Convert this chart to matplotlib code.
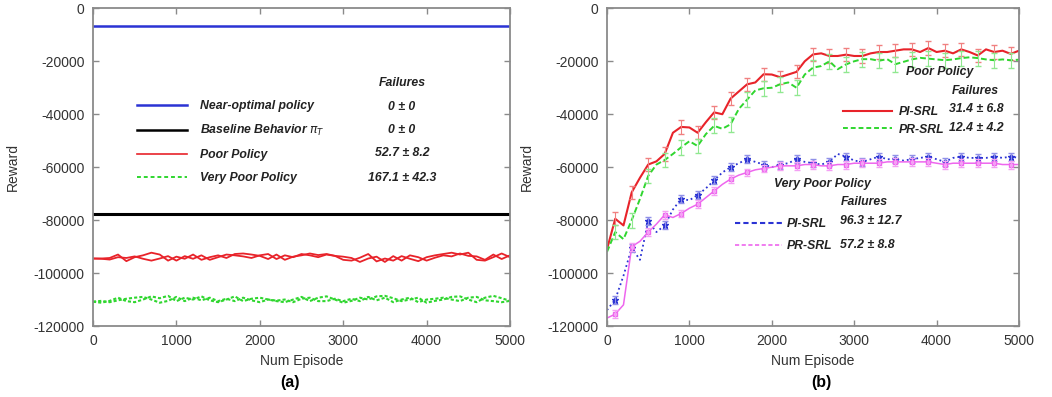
import numpy as np
import matplotlib
matplotlib.use("Agg")
import matplotlib.pyplot as plt
from matplotlib.lines import Line2D

plt.rcParams['font.family'] = ['Liberation Sans', 'DejaVu Sans']
plt.rcParams['axes.unicode_minus'] = False

# ---------------- data ----------------
episodes = np.arange(0, 5001, 100)

# panel (a)
near_optimal = -6700
baseline = -77700
poor_1 = [-94500, -94500, -94300, -93000, -95500, -94000, -93300, -92300, -93000, -95300,
          -93800, -94600, -93000, -95000, -94000, -93300, -94300, -92800, -92600, -93000,
          -93500, -94700, -93000, -95000, -93800, -93300, -92600, -93200, -92800, -93500,
          -95000, -95300, -94200, -92800, -95600, -94500, -95300, -93600, -94600, -95500,
          -94000, -93300, -92800, -92300, -93000, -92300, -95000, -95300, -94000, -92600, -94000]
poor_2 = [-94500, -94600, -94900, -94000, -94300, -93700, -94600, -95300, -94500, -93600,
          -95300, -93600, -94600, -93300, -95000, -94000, -93000, -93300, -93700, -94300,
          -93300, -92800, -94700, -93300, -94000, -92800, -93300, -94000, -93000, -93500,
          -93800, -94300, -95800, -94500, -93800, -95800, -93600, -95300, -93300, -94000,
          -95300, -94200, -93300, -93700, -92600, -93500, -93700, -95000, -93000, -94700, -93300]
very_poor_1 = [-110800, -111200, -110500, -109300, -110600, -111000, -110000, -108800, -109500, -108600,
               -110600, -109300, -110000, -108800, -110300, -111000, -110000, -108800, -110600, -109700,
               -109300, -110000, -110600, -111000, -110000, -109000, -110600, -109300, -108800, -110000,
               -111200, -110500, -109300, -110000, -108800, -108600, -109500, -110600, -110000, -109300,
               -111200, -110500, -110000, -109000, -108800, -110000, -111000, -109300, -108600, -109500, -110500]
very_poor_2 = [-110800, -110500, -111000, -110300, -109700, -109300, -109000, -110000, -111200, -110500,
               -109000, -110600, -109300, -110300, -109300, -110600, -109700, -110600, -109300, -110300,
               -111000, -110000, -110400, -110000, -111000, -109700, -109300, -110600, -110600, -109700,
               -110600, -109700, -110600, -109000, -110300, -109300, -111000, -110000, -109300, -111000,
               -110000, -109700, -109300, -110000, -110600, -109300, -109000, -110300, -110600, -111000, -110500]

# panel (b)
poor_pi = [-91000, -79500, -82000, -69500, -64000, -59000, -57800, -55000, -47000, -44800,
           -45000, -47000, -43000, -39300, -40000, -34100, -31400, -28700, -28000, -24900,
           -25000, -26000, -25000, -24000, -20000, -17400, -17000, -18000, -18000, -17500,
           -18000, -18000, -17000, -16500, -16500, -16000, -15500, -15500, -16500, -15000,
           -16500, -16000, -17000, -15500, -16500, -17800, -15500, -16500, -16000, -17200, -16000]
poor_pr = [-92000, -84500, -87200, -80000, -72000, -63300, -59000, -57300, -55000, -52500,
           -50200, -52000, -47500, -44400, -45500, -43800, -38000, -34500, -31000, -30200,
           -30000, -28700, -28000, -30000, -25000, -22400, -21800, -20000, -23000, -21200,
           -20000, -19200, -19200, -19800, -19200, -21100, -20200, -19300, -18700, -19000,
           -19300, -19600, -19300, -18800, -18500, -18800, -19300, -19600, -19300, -19600, -19400]
vpoor_pi = [-114000, -110000, -101000, -90500, -95000, -80500, -84500, -82000, -76000, -72000,
            -72500, -70500, -68000, -65000, -62000, -60000, -58500, -57000, -58000, -59000,
            -60000, -59000, -58500, -57000, -58000, -58500, -59000, -58000, -55000, -56000,
            -57500, -58000, -57000, -56000, -57000, -57000, -57500, -57000, -56500, -56000,
            -57000, -58000, -56500, -56000, -56500, -56500, -56500, -56000, -56500, -56000, -56500]
vpoor_pr = [-117000, -115500, -112000, -90000, -88000, -84500, -81500, -78000, -79000, -77500,
            -75500, -74000, -71500, -69000, -66500, -64500, -63000, -62000, -61000, -60500,
            -60000, -59500, -59500, -59500, -59000, -59000, -59500, -59500, -59000, -59000,
            -58500, -58500, -58500, -58500, -58000, -58000, -58000, -58000, -58000, -58000,
            -58500, -59000, -58500, -58500, -58500, -58500, -58500, -58500, -59000, -59000, -59000]
err_poor_pi = 2500
err_poor_pr = 2800
err_vpoor_pi = 1500
err_vpoor_pr = 1500

failures_a = ["0 ± 0", "0 ± 0", "52.7 ± 8.2", "167.1 ± 42.3"]
labels_a = ["Near-optimal policy", r"Baseline Behavior $\pi_T$", "Poor Policy", "Very Poor Policy"]

RED = "#e8232a"
GREEN = "#2fd62f"
BLUE = "#2b33d4"
PINK = "#ee66ee"
SPINE = "#8a8a8a"
INK = "#222222"

fig = plt.figure(figsize=(10.52, 3.97), dpi=100)
ax1 = fig.add_axes([0.0884, 0.1788, 0.3964, 0.8002])
ax2 = fig.add_axes([0.5770, 0.1788, 0.3916, 0.8002])


def style_axes(ax):
    ax.set_xlim(0, 5000)
    ax.set_ylim(-120000, 0)
    ax.set_xticks(range(0, 5001, 1000))
    ax.set_yticks(range(-120000, 1, 20000))
    ax.tick_params(direction="in", top=True, right=True, length=4, width=1,
                   color=SPINE, labelsize=10, labelcolor="#333333", pad=6)
    for s in ax.spines.values():
        s.set_color(SPINE)
        s.set_linewidth(1.3)
    ax.set_xlabel("Num Episode", fontsize=10, color="#333333", labelpad=4)
    ax.set_ylabel("Reward", fontsize=10, color="#333333", labelpad=10)


txt = dict(fontsize=8.8, fontweight="bold", style="italic", color=INK)
legprop = {"size": 8.8, "weight": "bold", "style": "italic"}

# ---------------- panel (a) ----------------
ax1.axhline(near_optimal, color=BLUE, lw=1.8)
ax1.axhline(baseline, color="black", lw=2.2)
ax1.plot(episodes, poor_1, color=RED, lw=1.3)
ax1.plot(episodes, poor_2, color=RED, lw=1.3)
ax1.plot(episodes, very_poor_1, color=GREEN, lw=1.5, ls=(0, (1.5, 1)))
ax1.plot(episodes, very_poor_2, color=GREEN, lw=1.5, ls=(0, (1.5, 1)))
style_axes(ax1)

handles_a = [Line2D([], [], color=BLUE, lw=1.8),
             Line2D([], [], color="black", lw=1.8),
             Line2D([], [], color=RED, lw=1.2),
             Line2D([], [], color=GREEN, lw=1.4, ls=(0, (2, 1.5)))]
leg = ax1.legend(handles_a, labels_a, loc="upper left", bbox_to_anchor=(0.105, 0.712),
                 frameon=False, borderpad=0, borderaxespad=0, handlelength=4.1,
                 handletextpad=1.1, labelspacing=0.9, prop=legprop)
for t in leg.get_texts():
    t.set_color(INK)
ax1.text(0.743, 0.764, "Failures", transform=ax1.transAxes, ha="center", va="center", **txt)
for y, v in zip([0.690, 0.617, 0.544, 0.467], failures_a):
    ax1.text(0.741, y, v, transform=ax1.transAxes, ha="center", va="center", **txt)

# ---------------- panel (b) ----------------
odd = slice(1, None, 2)
ep = np.array(episodes)

ax2.plot(episodes, poor_pi, color=RED, lw=1.5)
ax2.errorbar(ep[odd], np.array(poor_pi)[odd], yerr=err_poor_pi, fmt="none",
             ecolor="#f08080", elinewidth=0.8, capsize=2.5)
ax2.plot(episodes, poor_pr, color=GREEN, lw=1.4, ls=(0, (3, 1.5)))
ax2.errorbar(ep[odd], np.array(poor_pr)[odd], yerr=err_poor_pr, fmt="none",
             ecolor="#90e890", elinewidth=0.8, capsize=2.5)
ax2.plot(episodes, vpoor_pi, color=BLUE, lw=1.3, ls=":", marker="*", ms=4.5,
         markevery=odd, mfc="#6a4fe0", mec=BLUE)
ax2.errorbar(ep[odd], np.array(vpoor_pi)[odd], yerr=err_vpoor_pi, fmt="none",
             ecolor="#9090e8", elinewidth=0.8, capsize=2.5)
ax2.plot(episodes, vpoor_pr, color=PINK, lw=1.1, marker="s", ms=3.5,
         markevery=odd, mfc="#f6b8f6", mec=PINK)
ax2.errorbar(ep[odd], np.array(vpoor_pr)[odd], yerr=err_vpoor_pr, fmt="none",
             ecolor="#f4a0f4", elinewidth=0.8, capsize=2.5)
style_axes(ax2)

leg1 = ax2.legend([Line2D([], [], color=RED, lw=1.5),
                   Line2D([], [], color=GREEN, lw=1.4, ls=(0, (2.5, 1.5)))],
                  ["PI-SRL", "PR-SRL"], loc="upper left", bbox_to_anchor=(0.572, 0.692),
                  frameon=False, borderpad=0, borderaxespad=0, handlelength=4.0,
                  handletextpad=0.6, labelspacing=0.45, prop=legprop)
ax2.add_artist(leg1)
ax2.text(0.808, 0.799, "Poor Policy", transform=ax2.transAxes, ha="center", va="center", **txt)
ax2.text(0.893, 0.739, "Failures", transform=ax2.transAxes, ha="center", va="center", **txt)
ax2.text(0.830, 0.682, "31.4 ± 6.8", transform=ax2.transAxes, ha="left", va="center", **txt)
ax2.text(0.830, 0.622, "12.4 ± 4.2", transform=ax2.transAxes, ha="left", va="center", **txt)

leg2 = ax2.legend([Line2D([], [], color=BLUE, lw=1.5, ls=(0, (2.5, 1.5))),
                   Line2D([], [], color=PINK, lw=1.2, ls=(0, (2.5, 1.5)))],
                  ["PI-SRL", "PR-SRL"], loc="upper left", bbox_to_anchor=(0.310, 0.340),
                  frameon=False, borderpad=0, borderaxespad=0, handlelength=3.9,
                  handletextpad=0.35, labelspacing=0.85, prop=legprop)
ax2.text(0.524, 0.447, "Very Poor Policy", transform=ax2.transAxes, ha="center", va="center", **txt)
ax2.text(0.624, 0.390, "Failures", transform=ax2.transAxes, ha="center", va="center", **txt)
ax2.text(0.565, 0.329, "96.3 ± 12.7", transform=ax2.transAxes, ha="left", va="center", **txt)
ax2.text(0.565, 0.256, "57.2 ± 8.8", transform=ax2.transAxes, ha="left", va="center", **txt)

for lg in (leg1, leg2):
    for t in lg.get_texts():
        t.set_color(INK)

fig.text(0.276, 0.036, "(a)", ha="center", va="center", fontsize=11.5, fontweight="bold")
fig.text(0.781, 0.036, "(b)", ha="center", va="center", fontsize=11.5, fontweight="bold")

fig.savefig("out.png", dpi=100)
